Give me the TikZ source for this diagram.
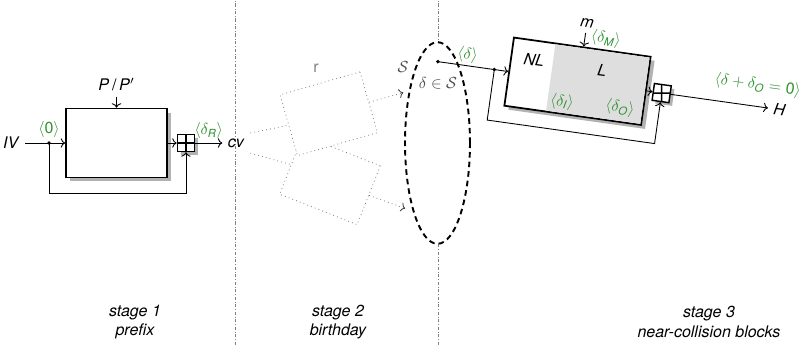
\documentclass[tikz,border=0pt]{standalone}
\usepackage{fontspec}
\setmainfont{TeX Gyre Heros}
\usepackage{amsmath}
\usetikzlibrary{arrows.meta,positioning,shapes.geometric,shadows}

\definecolor{dgreen}{RGB}{45,145,45}

\begin{document}
\begin{tikzpicture}[
  x=0.625pt, y=0.625pt,
  block/.style={draw, line width=1.1pt, fill=white, minimum height=43pt,
                drop shadow={shadow xshift=2.5pt, shadow yshift=-2.5pt,
                             opacity=1, fill=black!30}},
  xorbox/.style={draw, line width=0.9pt, fill=white, minimum size=10.6pt, inner sep=0pt,
                 drop shadow={shadow xshift=2pt, shadow yshift=-2pt,
                              opacity=1, fill=black!30},
                 path picture={\draw[line width=0.9pt]
                   (path picture bounding box.north) -- (path picture bounding box.south)
                   (path picture bounding box.west) -- (path picture bounding box.east);}},
  lbl/.style={text=dgreen, inner sep=1.5pt},
  arr/.style={-To, line width=0.55pt},
  ghost/.style={draw=gray, line width=0.5pt, dotted, fill=white,
                minimum width=52pt, minimum height=39.5pt},
  trail/.style={gray, line width=0.5pt, dotted},
  sep/.style={gray, line width=0.4pt, dash pattern=on 2pt off 1.2pt on 0.3pt off 1.2pt},
  stage/.style={align=center, font=\itshape}
]
\useasboundingbox (0,0) rectangle (802,345);

% stage borders
\draw[sep] (235,0) -- (235,345);
\draw[sep] (438,0) -- (438,345);

% stage 1: prefix block
\node[block, minimum width=63pt] (b1) at (116.5,202) {};
\node[above=7pt of b1] (pp) {\textit{P}\,/\,\textit{P}$'$};
\node[left=25pt of b1] (iv) {\textit{IV}};
\node[xorbox, right=5.6pt of b1] (x1) {};
\node[right=17pt of x1] (cv) {\textit{cv}};
\coordinate (d1) at (49,202);

\draw[arr] (pp) -- (b1);
\draw[arr] (iv) -- (b1);
\draw[arr] (b1) -- (x1);
\draw[arr] (x1) -- node[lbl, above=1pt] (dr) {$\langle\delta_{\textit{R}}\rangle$} (cv);
\draw[arr] (d1) -- ++(0,-50) -| (x1);
\fill (d1) circle (1.2pt) node[lbl, above=2pt] (zero) {$\langle\text{0}\rangle$};

% stage 2: birthday search
\node[ghost, rotate=-21.5] (rb) at (330,165) {};
\node[ghost, rotate=16] (ra) at (328.75,231.25) {};
\node[text=gray] (rlab) at (316,277) {r};

\node[ellipse, draw, fill=white, line width=1.2pt, dash pattern=on 3.5pt off 2.5pt,
      minimum width=40.6pt, minimum height=126pt, inner sep=0pt] (set) at (437.5,202) {};
\node[text=black!70] (slab) at (403,278) {$\mathcal{S}$};
\node[text=black!70] (member) at (438,262) {$\delta\in\mathcal{S}$};

\draw[trail] (cv.north east) -- (ra.west);
\draw[trail] (cv.south east) -- (rb.west);
\draw[trail, -{To[color=black!80]}, shorten >=3.5pt] (ra.east) -- (set.119);
\draw[trail, -{To[color=black!80]}, shorten >=5pt] (rb.east) -- (set.250);

% stage 3: near-collision blocks
\begin{scope}[shift={(577.5,263.75)}, rotate=-8, transform shape]
  \node[block, minimum width=86.25pt] (b3) at (0,0) {};
  \fill[black!13] (-27,-33.5) rectangle (68.1,33.5);
  \node (nl) at (-46,15) {\textit{NL}};
  \node (l) at (22.7,14.5) {\textit{L}};
  \node[lbl] (di) at (-12.5,-22.7) {$\langle\delta_{\textit{I}}\rangle$};
  \node[lbl] (do) at (45.8,-20.6) {$\langle\delta_{\textit{O}}\rangle$};
  \node (m) at (1.3,59) {\textit{m}};
  \node[lbl] (dm) at (22.3,45.8) {$\langle\delta_{\textit{M}}\rangle$};
  \node[xorbox] (x3) at (85,0) {};
  \node (h) at (204,0) {\textit{H}};
  \node[lbl] (dzero) at (179,21) {$\langle\delta+\delta_{\textit{O}}=\text{0}\rangle$};
  \coordinate (pick) at (-141,0);
  \coordinate (split) at (-84,0);

  \draw[arr] (pick) -- node[lbl, above] (dd) {$\langle\delta\rangle$} (split) -- (b3);
  \draw[arr] (m) -- (m |- b3.north);
  \draw[arr] (b3) -- (x3);
  \draw[arr] (x3) -- (h);
  \draw[arr] (split) -- ++(0,-51) -- ++(169,0) -- (x3);
  \fill (pick) circle (1.2pt);
  \fill (split) circle (1.2pt);
\end{scope}

% stage captions
\node[stage] (s1) at (135,23) {stage 1\\prefix};
\node[stage] (s2) at (338,23) {stage 2\\birthday};
\node[stage] (s3) at (709,23) {stage 3\\near-collision blocks};
\end{tikzpicture}
\end{document}
